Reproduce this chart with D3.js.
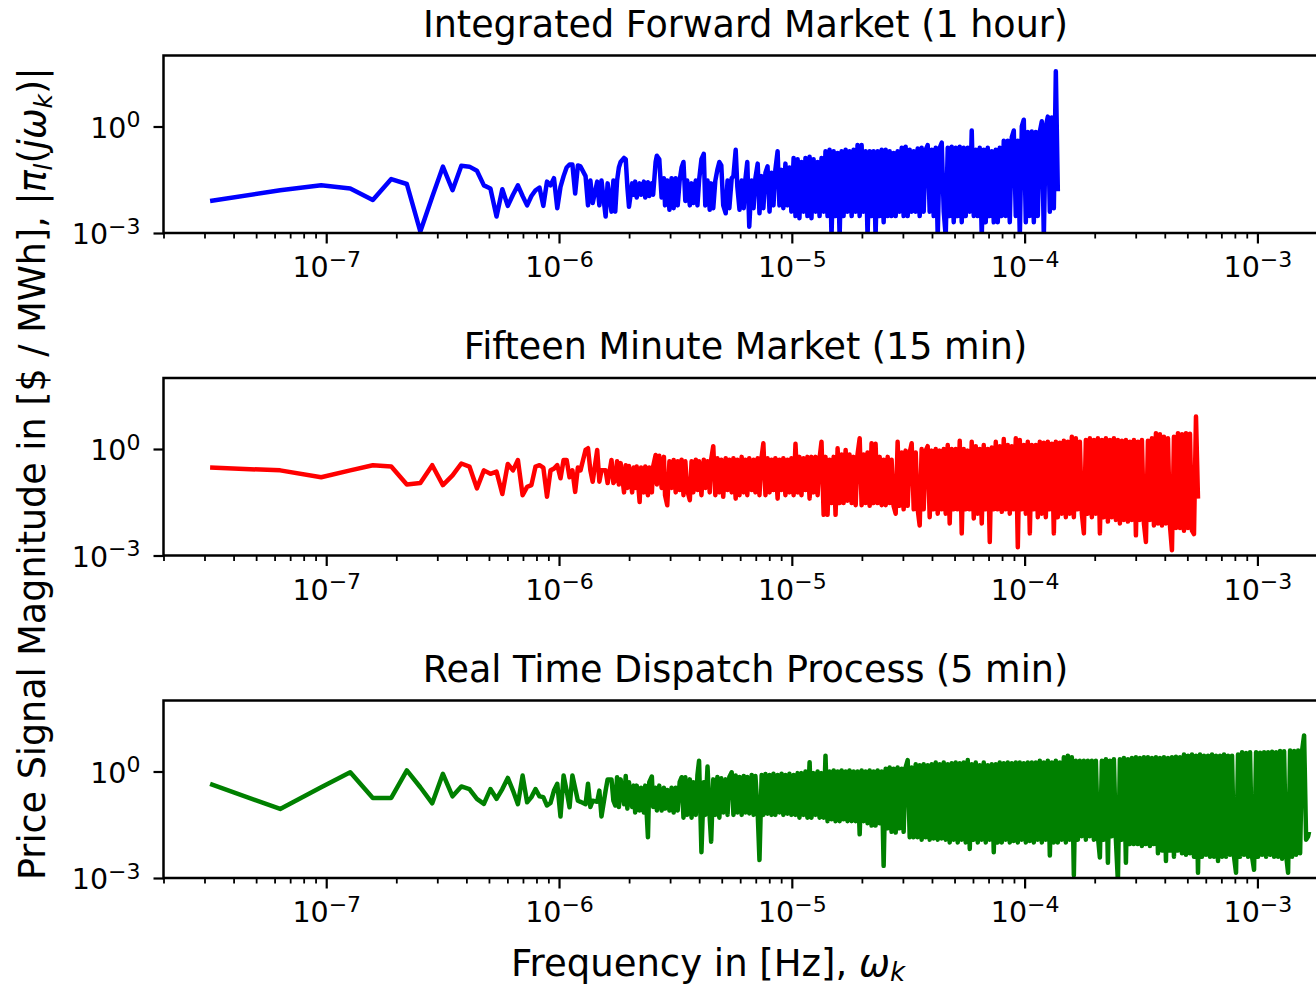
<!DOCTYPE html>
<html>
<head>
<meta charset="utf-8">
<script src="https://cdn.jsdelivr.net/npm/d3@7"></script>
<style>
  body { margin: 0; background: #fff; }
  svg { display: block; }
  text { font-family: "DejaVu Sans", sans-serif; fill: #000; }
</style>
</head>
<body>
<svg id="chart" width="1316" height="989"></svg>
<script>
// one year of data -> fundamental frequency of the spectrum (Hz)
const fundamental = 1 / (8760 * 3600)

// harmonic numbers k (x = k * fundamental)
const harmonics = [
  1, 2, 3, 4, 5, 6, 7, 8, 9, 10,
  11, 12, 13, 14, 15, 16, 17, 18, 19, 20,
  21, 22, 23, 24, 25, 26, 27, 28, 29, 30,
  31, 32, 33, 34, 35, 36, 37, 38, 39, 41,
  42, 43, 44, 46, 47, 48, 50, 51, 53, 54,
  55, 56, 57, 58, 60, 61, 62, 63, 65, 66,
  67, 68, 70, 71, 73, 74, 76, 77, 79, 80,
  82, 83, 85, 87, 89, 90, 92, 94, 96, 98,
  100, 102, 104, 106, 108, 110, 112, 115, 117, 119,
  122, 124, 126, 129, 132, 134, 137, 140, 142, 145,
  148, 151, 154, 157, 160, 164, 167, 170, 174, 177,
  181, 184, 188, 192, 196, 199, 203, 207, 212, 216,
  220, 225, 229, 234, 238, 243, 248, 253, 258, 263,
  268, 274, 279, 285, 290, 296, 302, 308, 314, 321,
  327, 334, 340, 347, 354, 361, 368, 376, 383, 391,
  399, 407, 415, 423, 432, 440, 449, 458, 467, 477,
  486, 496, 506, 516, 526, 537, 547, 558, 570, 581,
  593, 604, 617, 629, 641, 654, 667, 681, 694, 708,
  722, 737, 752, 767, 782, 798, 814, 830, 846, 863,
  881, 898, 916, 935, 953, 972, 992, 1012, 1032, 1053,
  1074, 1095, 1117, 1139, 1162, 1185, 1209, 1233, 1258, 1283,
  1309, 1335, 1362, 1389, 1417, 1445, 1474, 1503, 1533, 1564,
  1595, 1627, 1660, 1693, 1727, 1761, 1797, 1833, 1869, 1907,
  1945, 1984, 2023, 2064, 2105, 2147, 2190, 2234, 2279, 2324,
  2371, 2418, 2466, 2516, 2566, 2617, 2670, 2723, 2778, 2833,
  2890, 2948, 3007, 3067, 3128, 3191, 3254, 3320, 3386, 3454,
  3523, 3593, 3665, 3738, 3813, 3889, 3967, 4047, 4127, 4210,
  4294, 4380, 4468, 4557, 4648, 4741, 4836, 4933, 5031, 5132,
  5235, 5339, 5446, 5555, 5666, 5779, 5895, 6013, 6133, 6256,
  6381, 6509, 6639, 6771, 6907, 7045, 7186, 7330, 7476, 7626,
  7778, 7934, 8092, 8254, 8419, 8588, 8760, 8935, 9113, 9296,
  9482, 9671, 9865, 10062, 10263, 10468, 10678, 10891, 11109, 11331,
  11558, 11789, 12025, 12266, 12511, 12761, 13016, 13277, 13542, 13813,
  14089, 14371, 14659, 14952, 15251, 15556, 15867, 16184, 16508, 16838,
  17175, 17520, 17870, 18228, 18592, 18964, 19343, 19730, 20125, 20527,
  20938, 21357, 21784, 22219, 22664, 23117, 23580, 24051, 24532, 25023,
  25523, 26034, 26555, 27086, 27627, 28180, 28743, 29318, 29905, 30503,
  31113, 31735, 32370, 33017, 33677, 34351, 35038, 35739, 36454, 37183,
  37926, 38685, 39459, 40248, 41053, 41874, 42711, 43566, 44437, 45326,
  46232, 47157, 48100, 49062, 50043, 51044, 52065, 52560
]

// |pi(j w_k)| for the integrated forward market (hourly)
const ifmMagnitude = [
  0.008, 0.016, 0.022, 0.018, 0.0085, 0.033, 0.024, 0.0011, 0.0105, 0.074,
  0.016, 0.078, 0.074, 0.057, 0.022, 0.018, 0.0029, 0.017, 0.0058, 0.012,
  0.022, 0.011, 0.006, 0.011, 0.016, 0.019, 0.0058, 0.028, 0.022, 0.035,
  0.005, 0.02, 0.04, 0.07, 0.085, 0.085, 0.013, 0.08, 0.075, 0.04,
  0.006, 0.03, 0.007, 0.028, 0.006, 0.03, 0.0029, 0.025, 0.004, 0.03,
  0.004, 0.03, 0.07, 0.1, 0.13, 0.12, 0.02, 0.0055, 0.025, 0.012,
  0.028, 0.01, 0.025, 0.012, 0.028, 0.01, 0.027, 0.011, 0.025, 0.012,
  0.1, 0.15, 0.12, 0.01, 0.035, 0.006, 0.03, 0.0045, 0.035, 0.005,
  0.035, 0.006, 0.03, 0.07, 0.1, 0.008, 0.03, 0.006, 0.025, 0.007,
  0.03, 0.006, 0.03, 0.12, 0.17, 0.006, 0.03, 0.0045, 0.025, 0.005,
  0.03, 0.06, 0.1, 0.08, 0.006, 0.0036, 0.03, 0.005, 0.035, 0.04,
  0.22, 0.02, 0.0045, 0.03, 0.005, 0.03, 0.1, 0.0015, 0.03, 0.005,
  0.035, 0.09, 0.0036, 0.04, 0.005, 0.05, 0.075, 0.004, 0.05, 0.006,
  0.06, 0.2, 0.006, 0.06, 0.005, 0.09, 0.006, 0.07, 0.004, 0.13,
  0.003, 0.12, 0.0026, 0.1, 0.004, 0.13, 0.003, 0.14, 0.0026, 0.12,
  0.004, 0.1, 0.003, 0.13, 0.004, 0.2, 0.003, 0.22, 0.0008, 0.2,
  0.003, 0.18, 0.0008, 0.2, 0.003, 0.22, 0.004, 0.2, 0.003, 0.22,
  0.004, 0.3, 0.003, 0.3, 0.004, 0.2, 0.0008, 0.2, 0.003, 0.2,
  0.0008, 0.2, 0.003, 0.22, 0.002, 0.22, 0.003, 0.2, 0.003, 0.18,
  0.003, 0.2, 0.004, 0.25, 0.003, 0.27, 0.003, 0.22, 0.004, 0.2,
  0.004, 0.24, 0.003, 0.25, 0.004, 0.22, 0.3, 0.004, 0.22, 0.003,
  0.25, 0.0008, 0.25, 0.35, 0.004, 0.0008, 0.25, 0.003, 0.27, 0.002,
  0.25, 0.003, 0.27, 0.002, 0.25, 0.003, 0.25, 0.004, 0.77, 0.003,
  0.22, 0.003, 0.25, 0.0008, 0.22, 0.002, 0.25, 0.003, 0.2, 0.002,
  0.22, 0.002, 0.25, 0.003, 0.4, 0.003, 0.4, 0.002, 0.5, 0.77,
  0.003, 0.4, 0.0008, 1.0, 1.55, 0.002, 0.7, 0.003, 0.72, 0.002,
  0.7, 0.003, 0.72, 1.4, 0.0008, 1.0, 1.9, 0.004, 1.8, 0.005,
  36, 0.015
]

// fifteen minute market
const fmmMagnitude = [
  0.3, 0.25, 0.16, 0.25, 0.35, 0.32, 0.1, 0.11, 0.35, 0.096,
  0.18, 0.39, 0.32, 0.078, 0.25, 0.2, 0.23, 0.054, 0.38, 0.25,
  0.49, 0.05, 0.086, 0.096, 0.32, 0.35, 0.3, 0.045, 0.25, 0.28,
  0.35, 0.15, 0.49, 0.49, 0.16, 0.25, 0.062, 0.3, 0.25, 0.94,
  1.05, 0.25, 0.12, 0.94, 0.12, 0.25, 0.25, 0.11, 0.49, 0.11,
  0.13, 0.45, 0.1, 0.4, 0.06, 0.35, 0.08, 0.33, 0.06, 0.3,
  0.08, 0.32, 0.032, 0.3, 0.06, 0.32, 0.05, 0.3, 0.06, 0.32,
  0.68, 0.1, 0.65, 0.08, 0.6, 0.05, 0.026, 0.45, 0.08, 0.49,
  0.06, 0.45, 0.07, 0.5, 0.05, 0.45, 0.07, 0.036, 0.45, 0.06,
  0.5, 0.07, 0.45, 0.05, 0.5, 0.08, 0.45, 0.06, 0.5, 1.2,
  0.05, 0.55, 0.06, 0.5, 0.045, 0.55, 0.07, 0.5, 0.06, 0.55,
  0.04, 0.5, 0.05, 0.6, 0.06, 0.5, 0.05, 0.55, 0.07, 0.5,
  0.06, 0.55, 0.05, 0.6, 1.45, 0.05, 0.55, 0.06, 0.5, 0.07,
  0.55, 0.04, 0.5, 0.07, 0.55, 0.05, 0.5, 0.06, 0.55, 0.05,
  1.4, 0.06, 0.6, 0.05, 0.55, 0.07, 0.6, 0.04, 0.6, 0.06,
  0.6, 0.05, 0.55, 1.6, 0.014, 0.6, 0.014, 0.5, 0.03, 0.6,
  0.014, 1.05, 0.03, 0.7, 0.03, 0.94, 0.035, 0.7, 0.03, 0.6,
  0.026, 0.7, 2.0, 0.026, 0.7, 0.03, 0.8, 0.025, 1.45, 0.03,
  1.4, 0.03, 0.6, 0.026, 0.5, 0.026, 0.6, 0.03, 0.5, 0.025,
  0.015, 1.6, 0.025, 0.8, 0.02, 0.9, 0.025, 0.8, 1.45, 0.02,
  0.8, 0.02, 0.007, 1.0, 0.02, 0.9, 1.2, 0.012, 0.9, 0.02,
  1.0, 0.015, 0.9, 0.02, 1.0, 0.015, 1.3, 0.008, 1.0, 0.02,
  1.0, 0.02, 1.7, 0.0042, 1.0, 0.02, 0.9, 0.02, 1.6, 0.011,
  1.2, 0.015, 1.0, 0.008, 1.3, 0.02, 1.0, 0.0024, 1.1, 0.02,
  1.6, 0.02, 1.2, 0.017, 1.9, 0.02, 1.3, 0.015, 1.2, 0.02,
  2.0, 0.0017, 1.8, 0.02, 1.3, 0.015, 1.6, 0.0042, 1.3, 0.02,
  1.3, 0.012, 1.6, 0.015, 1.5, 0.012, 1.6, 0.02, 1.4, 0.0042,
  1.6, 0.012, 1.5, 0.015, 1.7, 0.012, 1.6, 0.015, 2.2, 0.012,
  2.0, 0.02, 1.6, 0.015, 0.0042, 1.8, 0.015, 2.0, 0.012, 1.8,
  0.015, 2.0, 0.0042, 1.8, 0.012, 2.0, 0.009, 1.8, 0.012, 2.0,
  0.01, 1.8, 0.008, 1.7, 0.01, 1.8, 0.009, 1.6, 0.01, 1.8,
  0.0037, 1.6, 0.01, 1.8, 0.008, 0.0024, 1.7, 0.01, 2.0, 0.007,
  2.8, 0.008, 2.6, 0.007, 2.2, 0.008, 2.0, 0.007, 0.0014, 2.2,
  0.006, 2.8, 0.006, 2.6, 0.005, 2.8, 0.006, 2.7, 0.005, 0.004,
  8.2, 0.04
]

// real time dispatch (5 min)
const rtdMagnitude = [
  0.45, 0.088, 0.36, 0.95, 0.18, 0.18, 1.07, 0.36, 0.127, 0.86,
  0.2, 0.38, 0.32, 0.17, 0.122, 0.32, 0.17, 0.32, 0.66, 0.29,
  0.12, 0.77, 0.136, 0.19, 0.32, 0.2, 0.19, 0.11, 0.13, 0.29,
  0.45, 0.054, 0.77, 0.29, 0.098, 0.77, 0.34, 0.15, 0.14, 0.12,
  0.45, 0.1, 0.15, 0.14, 0.29, 0.054, 0.29, 0.6, 0.6, 0.15,
  0.11, 0.69, 0.1, 0.6, 0.12, 0.75, 0.09, 0.5, 0.1, 0.4,
  0.07, 0.4, 0.08, 0.35, 0.07, 0.4, 0.014, 0.5, 0.72, 0.1,
  0.35, 0.08, 0.4, 0.08, 0.35, 0.09, 0.3, 0.08, 0.35, 0.07,
  0.35, 0.08, 0.5, 0.69, 0.05, 0.69, 0.06, 0.6, 0.05, 0.5,
  0.06, 0.8, 2.0, 0.0053, 0.5, 0.06, 1.38, 0.05, 0.0105, 0.6,
  0.06, 0.7, 0.05, 0.65, 0.07, 0.6, 0.06, 0.7, 0.95, 0.06,
  0.77, 0.07, 0.7, 0.06, 0.75, 0.07, 0.7, 0.066, 0.8, 0.06,
  0.75, 0.07, 0.0032, 0.8, 0.06, 0.85, 0.065, 0.8, 0.06, 0.86,
  0.06, 0.8, 0.07, 0.86, 0.06, 0.8, 0.065, 0.86, 0.06, 0.8,
  0.06, 0.9, 0.05, 0.9, 0.06, 1.0, 0.05, 1.83, 0.05, 0.9,
  0.06, 1.0, 0.05, 0.9, 0.05, 2.8, 0.04, 1.0, 0.045, 1.07,
  0.04, 1.0, 0.04, 1.07, 0.045, 1.0, 0.04, 1.07, 0.04, 1.0,
  0.04, 1.0, 0.017, 1.07, 0.04, 1.0, 0.035, 1.07, 0.03, 1.0,
  0.03, 1.07, 0.035, 1.0, 0.0022, 1.2, 0.025, 1.3, 0.02, 1.2,
  0.019, 1.3, 0.025, 1.2, 0.02, 1.3, 2.1, 0.014, 1.3, 0.014,
  1.6, 0.014, 1.5, 0.012, 1.6, 0.014, 1.5, 0.012, 1.6, 0.013,
  1.8, 0.012, 1.6, 0.013, 1.8, 0.012, 1.6, 0.01, 1.7, 0.012,
  1.8, 0.01, 1.7, 0.012, 1.8, 0.01, 2.1, 0.0066, 1.6, 0.012,
  1.8, 0.01, 1.5, 0.012, 1.8, 0.01, 1.5, 0.012, 1.6, 0.0053,
  1.6, 0.01, 1.8, 0.01, 1.7, 0.012, 1.8, 0.01, 1.7, 0.011,
  1.8, 0.01, 1.8, 0.012, 1.7, 0.01, 1.8, 0.011, 1.8, 0.01,
  1.8, 0.012, 2.0, 0.01, 1.8, 0.012, 2.0, 0.0043, 1.8, 0.01,
  2.0, 0.01, 1.8, 0.012, 2.5, 0.01, 2.8, 0.012, 2.5, 0.0012,
  2.0, 0.012, 2.0, 0.015, 2.0, 0.012, 2.0, 0.015, 2.0, 0.012,
  2.0, 0.015, 0.0038, 2.0, 0.012, 2.2, 0.0027, 2.0, 0.015, 2.2,
  0.012, 0.0008, 2.2, 0.012, 2.4, 0.0027, 2.2, 0.009, 2.4, 0.009,
  2.5, 0.009, 2.4, 0.008, 2.5, 0.009, 2.5, 0.008, 2.4, 0.009,
  2.5, 0.005, 2.4, 0.006, 2.5, 0.003, 2.4, 0.006, 2.5, 0.004,
  2.6, 0.006, 2.5, 0.005, 3.0, 0.0045, 2.8, 0.005, 3.0, 0.004,
  2.8, 0.0014, 3.0, 0.004, 2.8, 0.0045, 2.8, 0.004, 3.0, 0.004,
  2.8, 0.003, 2.8, 0.004, 3.0, 0.004, 2.8, 0.0045, 2.8, 0.004,
  0.0014, 3.0, 0.004, 3.5, 0.0045, 3.3, 0.004, 3.5, 0.004, 0.0017,
  3.5, 0.004, 3.4, 0.0045, 3.5, 0.004, 3.5, 0.0045, 3.6, 0.004,
  3.5, 0.004, 3.8, 0.0035, 3.7, 0.0045, 0.0014, 3.9, 0.004, 3.8,
  0.0045, 3.9, 0.005, 3.9, 10.4, 0.012, 0.015, 0.02
]

const panelTitles = [
  'Integrated Forward Market (1 hour)',
  'Fifteen Minute Market (15 min)',
  'Real Time Dispatch Process (5 min)'
]
const xTickExponents = [-7, -6, -5, -4, -3]
const yTickExponents = [0, -3]

let svg = d3.select('#chart')

let plotLeft = 163.5
let plotRight = 1327.5
let plotHeight = 177.5
let plotTops = [55.5, 378, 700.5]

let x = d3.scaleLog().domain([2e-8, 2e-3]).range([plotLeft, plotRight])
let y = d3.scaleLog().domain([1e-3, 1e2]).range([plotHeight, 0])

let panels = [
    {title: panelTitles[0], mags: ifmMagnitude, color: '#0000ff'},
    {title: panelTitles[1], mags: fmmMagnitude, color: '#ff0000'},
    {title: panelTitles[2], mags: rtdMagnitude, color: '#008000'}
]

let majorX = xTickExponents.map(e => Math.pow(10, e))
let minorX = []
for (let e = -8; e <= -3; e++) {
    for (let m = 2; m <= 9; m++) {
        let v = m * Math.pow(10, e)
        if (v >= 2e-8 * 0.999 && v <= 2e-3 * 1.001) minorX.push(v)
    }
}

// "10" with a superscript exponent
let powLabel = (sel, exp) => {
    sel.append('tspan').text('10')
    sel.append('tspan')
        .attr('dy', -10.5)
        .attr('font-size', 22)
        .text(exp < 0 ? '\u2212' + (-exp) : String(exp))
}

let line = d3.line()
    .x(d => x(d.f))
    .y(d => y(d.m))

panels.forEach((p, i) => {
    let g = svg.append('g').attr('transform', `translate(0,${plotTops[i]})`)

    g.append('clipPath').attr('id', 'clip' + i)
        .append('rect')
        .attr('x', plotLeft).attr('y', 0)
        .attr('width', plotRight - plotLeft).attr('height', plotHeight)

    let pts = p.mags.map((m, j) => ({f: harmonics[j] * fundamental, m: m}))

    g.append('path')
        .datum(pts)
        .attr('clip-path', `url(#clip${i})`)
        .attr('fill', 'none')
        .attr('stroke', p.color)
        .attr('stroke-width', 4.5)
        .attr('stroke-linejoin', 'round')
        .attr('d', line)

    // minor x ticks
    let minorAxis = g.append('g')
        .attr('transform', `translate(0,${plotHeight})`)
        .call(d3.axisBottom(x).tickValues(minorX).tickSize(5.5).tickFormat(''))
    minorAxis.select('.domain').remove()
    minorAxis.selectAll('line').attr('stroke', '#000').attr('stroke-width', 1.8)

    // major x ticks with labels
    let xAxis = g.append('g')
        .attr('transform', `translate(0,${plotHeight})`)
        .call(d3.axisBottom(x).tickValues(majorX).tickSize(10.5).tickFormat(''))
    xAxis.select('.domain').remove()
    xAxis.selectAll('line').attr('stroke', '#000').attr('stroke-width', 2.2)
    xAxis.selectAll('.tick text')
        .attr('y', 44).attr('dy', null)
        .attr('font-size', 28.5)
        .each(function(d) { powLabel(d3.select(this), Math.round(Math.log10(d))) })

    // y ticks
    let yAxis = g.append('g')
        .attr('transform', `translate(${plotLeft},0)`)
        .call(d3.axisLeft(y).tickValues(yTickExponents.map(e => Math.pow(10, e))).tickSize(10).tickFormat(''))
    yAxis.select('.domain').remove()
    yAxis.selectAll('line').attr('stroke', '#000').attr('stroke-width', 2.2)
    yAxis.selectAll('.tick text')
        .attr('x', -23).attr('y', 10.5).attr('dy', null)
        .attr('font-size', 28.5)
        .each(function(d) { powLabel(d3.select(this), Math.round(Math.log10(d))) })

    // frame
    g.append('rect')
        .attr('x', plotLeft).attr('y', 0)
        .attr('width', plotRight - plotLeft).attr('height', plotHeight)
        .attr('fill', 'none')
        .attr('stroke', '#000')
        .attr('stroke-width', 2.5)

    g.append('text')
        .attr('x', (plotLeft + plotRight) / 2)
        .attr('y', -19)
        .attr('text-anchor', 'middle')
        .attr('font-size', 36.5)
        .text(p.title)
})

// x label
let xl = svg.append('text')
    .attr('x', 708).attr('y', 976)
    .attr('text-anchor', 'middle')
    .attr('font-size', 37)
xl.append('tspan').text('Frequency in [Hz], ')
xl.append('tspan').attr('font-style', 'italic').text('\u03c9')
xl.append('tspan').attr('font-style', 'italic').attr('font-size', 26).attr('dy', 5).text('k')

// y label
let yl = svg.append('text')
    .attr('transform', 'translate(45,880) rotate(-90)')
    .attr('text-anchor', 'start')
    .attr('font-size', 36.5)
yl.append('tspan').text('Price Signal Magnitude in [$ / MWh], |')
yl.append('tspan').attr('font-style', 'italic').text('\u03c0')
yl.append('tspan').attr('font-style', 'italic').attr('font-size', 25).attr('dy', 7).text('l')
yl.append('tspan').attr('dy', -7).text('(')
yl.append('tspan').attr('font-style', 'italic').text('j\u03c9')
yl.append('tspan').attr('font-style', 'italic').attr('font-size', 25).attr('dy', 7).text('k')
yl.append('tspan').attr('dy', -7).text(')|')
</script>
</body>
</html>
